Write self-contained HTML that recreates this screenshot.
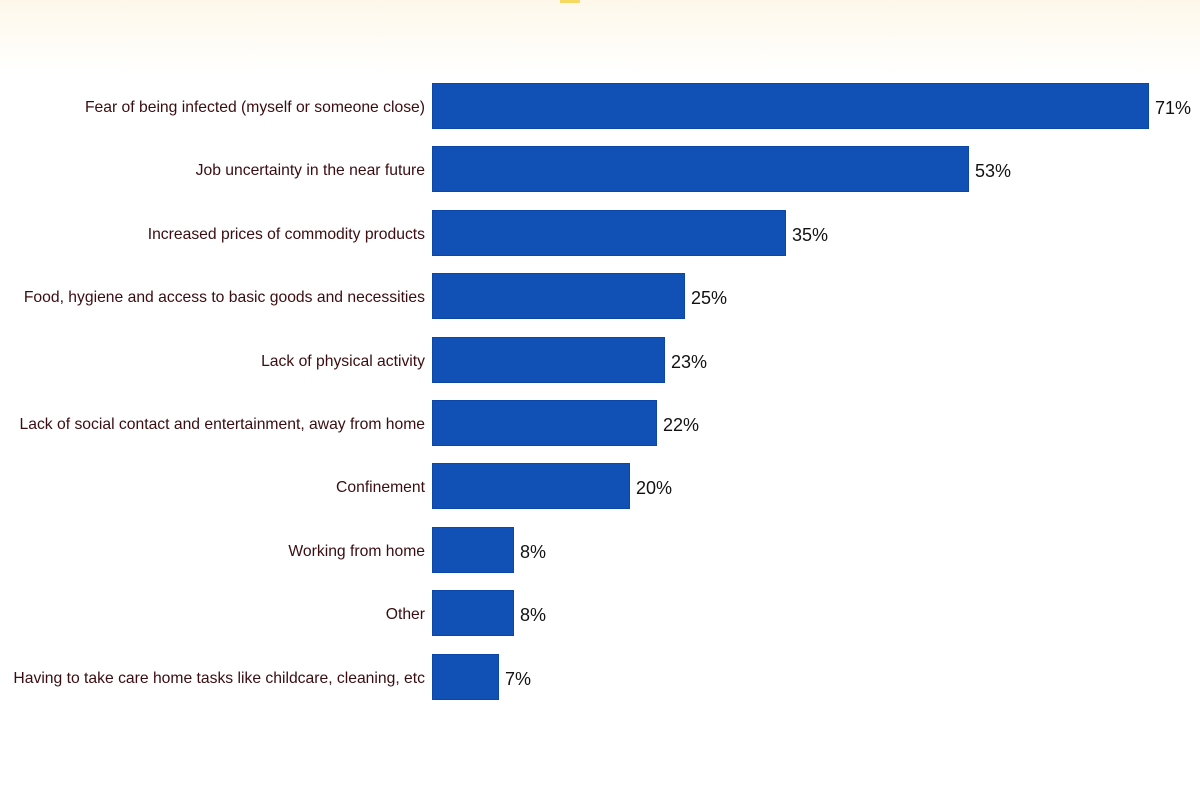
<!DOCTYPE html>
<html><head><style>
body{margin:0;width:1200px;height:799px;background:#fff;position:relative;overflow:hidden;font-family:"Liberation Sans",sans-serif}
.l{position:absolute;right:775px;font-size:15.7px;color:#3b0d10;white-space:nowrap;line-height:46px;height:46px;letter-spacing:0;margin-top:2px}
.b{position:absolute;left:432px;height:46px;background:#1150b4;border:1px solid #0c47a8;box-sizing:border-box}
.v{position:absolute;font-size:18px;color:#111;line-height:46px;height:46px;margin-top:2px}
</style></head><body>
<div style="position:absolute;left:0;top:0;width:1200px;height:75px;background:linear-gradient(#fdf8ea,#fff)"></div>
<div style="position:absolute;left:560px;top:0;width:20px;height:3px;background:#f7d860"></div>
<div id="c"></div>
<script>
var d=[["Fear of being infected (myself or someone close)",1149,"71%"],["Job uncertainty in the near future",969,"53%"],["Increased prices of commodity products",786,"35%"],["Food, hygiene and access to basic goods and necessities",685,"25%"],["Lack of physical activity",665,"23%"],["Lack of social contact and entertainment, away from home",657,"22%"],["Confinement",630,"20%"],["Working from home",514,"8%"],["Other",514,"8%"],["Having to take care home tasks like childcare, cleaning, etc",499,"7%"]];
var h="";d.forEach(function(r,i){var t=83+i*63.4;
h+='<div class="l" style="top:'+t+'px">'+r[0]+'</div><div class="b" style="top:'+t+'px;width:'+(r[1]-432)+'px"></div><div class="v" style="top:'+t+'px;left:'+(r[1]+6)+'px">'+r[2]+'</div>';});
document.getElementById("c").innerHTML=h;
</script>
</body></html>
